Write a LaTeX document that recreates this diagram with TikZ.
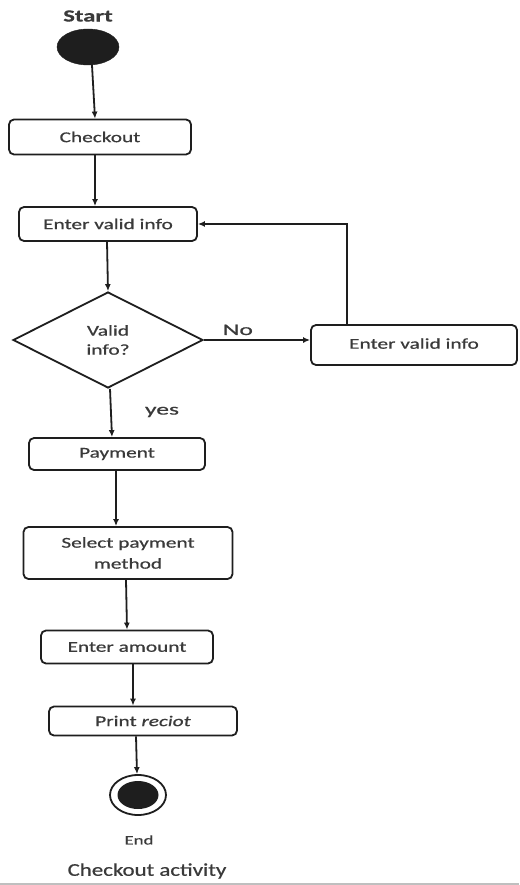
\documentclass[tikz,border=0pt]{standalone}
\usepackage{fontspec}
\setmainfont{Carlito}[FakeBold=0.5]
\usetikzlibrary{shapes.geometric,arrows.meta}
\definecolor{ink}{HTML}{1E1E1E}
\definecolor{txt}{HTML}{3A3A3A}
% horizontally widened text
\newcommand{\wide}[2][1.42]{\scalebox{#1}[1]{#2}}
\tikzset{
  actbox/.style={draw=ink, line width=1.8pt, rounded corners=5pt, inner sep=0pt,
    text=txt, font=\fontsize{15}{18}\selectfont, align=center},
  flow/.style={draw=ink, line width=1.8pt, -{Latex[length=7pt,width=6pt]}},
  lbl/.style={text=txt, inner sep=0pt}
}
\begin{document}
\begin{tikzpicture}[x=1pt,y=-1pt]
\useasboundingbox (0,0) rectangle (519,885);
\fill[white] (0,0) rectangle (519,885);

% start and end states
\node[lbl, font=\fontsize{17}{20}\selectfont\bfseries] (starttxt) at (88,16) {\wide[1.45]{Start}};
\node[ellipse, fill=ink, draw=ink, minimum width=62, minimum height=36, inner sep=0pt] (start) at (88,47) {};

% activities
\node[actbox, minimum width=182, minimum height=35] (checkout) at (100,137) {\wide{Checkout}};
\node[actbox, minimum width=178, minimum height=34] (enter) at (108,224) {\wide{Enter valid info}};
\node[diamond, draw=ink, line width=1.8pt, minimum width=190, minimum height=96, inner sep=0pt,
      text=txt, font=\fontsize{15}{19}\selectfont, align=center] (valid) at (108,340)
      {\wide{Valid}\\\wide{info?}};
\node[actbox, minimum width=206, minimum height=40] (reenter) at (414,345) {\raisebox{3pt}{\wide{Enter valid info}}};
\node[actbox, minimum width=176, minimum height=32] (payment) at (117,454) {\wide{Payment}};
\node[actbox, minimum width=209, minimum height=52, font=\fontsize{15}{21}\selectfont] (select) at (128,553)
      {\wide{Select payment}\\\wide{method}};
\node[actbox, minimum width=172, minimum height=33] (amount) at (127,647) {\wide{Enter amount}};
\node[actbox, minimum width=188, minimum height=29] (print) at (143,721) {\wide{Print \textit{reciot}}};

\node[ellipse, draw=ink, line width=1.8pt, minimum width=56, minimum height=40, inner sep=0pt] (end) at (138,795) {};
\node[ellipse, fill=ink, minimum width=41, minimum height=28, inner sep=0pt] (endcore) at (end.center) {};
\node[lbl, font=\fontsize{13}{15}\selectfont] (endtxt) at (139,840) {\wide[1.45]{End}};
\node[lbl, font=\fontsize{18}{21}\selectfont] (caption) at (147,871) {\wide[1.27]{Checkout activity}};

% connectors
\draw[flow] ([xshift=4]start.south) -- ([xshift=-5]checkout.north);
\draw[flow] ([xshift=-5]checkout.south) -- ([xshift=-13]enter.north);
\draw[flow] ([xshift=-1]enter.south) -- (valid.north);
\draw[flow] (valid.east) -- (valid.east -| reenter.west)
  node[lbl, pos=0.32, above=4pt, font=\fontsize{16}{18}\selectfont] (no) {\wide[1.6]{No}};
\draw[flow] ([xshift=-67]reenter.north) |- (enter.east);
\draw[flow] ([xshift=2]valid.south) -- ([xshift=-5]payment.north);
\node[lbl, font=\fontsize{16}{18}\selectfont] (yes) at (162,412) {\wide[1.6]{yes}};
\draw[flow] ([xshift=-1]payment.south) -- ([xshift=-12]select.north);
\draw[flow] ([xshift=-2]select.south) -- (amount.north);
\draw[flow] ([xshift=6]amount.south) -- ([xshift=-10]print.north);
\draw[flow] ([xshift=-7]print.south) -- ([xshift=-1]end.north);

% bottom rule
\draw[black!25, line width=1.5pt] (0,884) -- (519,884);
\end{tikzpicture}
\end{document}
